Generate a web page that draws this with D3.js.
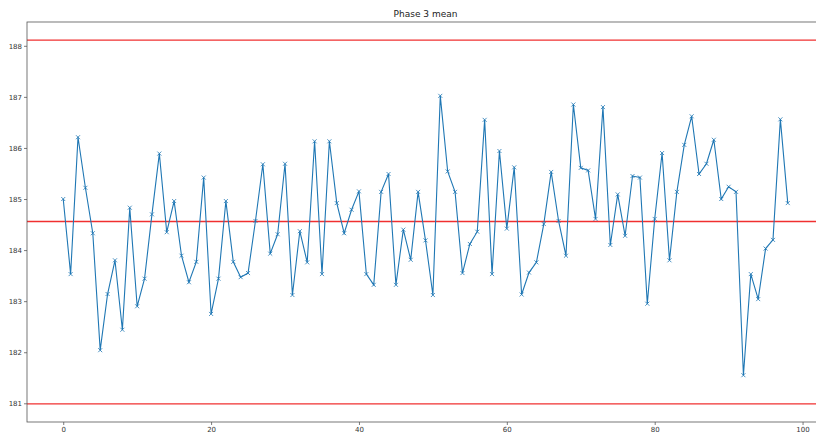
<!DOCTYPE html>
<html>
<head>
<meta charset="utf-8">
<script src="https://cdn.jsdelivr.net/npm/d3@7"></script>
<style>
  body { margin: 0; background: #fff; }
  svg { display: block; font-family: "DejaVu Sans", sans-serif; }
  .tick text { fill: #333; }
</style>
</head>
<body>
<div id="viz"></div>
<script>
// phase 3 mean values, index 0..98
var phaseMean = [
    185.00, 183.53, 186.21, 185.22, 184.33, 182.04, 183.14, 183.80, 182.44, 184.83,
    182.90, 183.44, 184.70, 185.89, 184.35, 184.96, 183.89, 183.37, 183.77, 185.42,
    182.75, 183.44, 184.96, 183.77, 183.47, 183.55, 184.57, 185.68, 183.93, 184.31,
    185.69, 183.12, 184.37, 183.76, 186.13, 183.53, 186.13, 184.92, 184.33, 184.79,
    185.15, 183.53, 183.32, 185.14, 185.49, 183.32, 184.40, 183.81, 185.14, 184.19,
    183.12, 187.02, 185.54, 185.14, 183.55, 184.12, 184.36, 186.55, 183.53, 185.94,
    184.42, 185.62, 183.13, 183.56, 183.76, 184.51, 185.53, 184.57, 183.89, 186.85,
    185.61, 185.56, 184.61, 186.80, 184.10, 185.09, 184.28, 185.45, 185.42, 182.95,
    184.61, 185.90, 183.80, 185.14, 186.06, 186.62, 185.49, 185.69, 186.16, 185.00,
    185.24, 185.14, 181.55, 183.53, 183.04, 184.03, 184.20, 186.56, 184.92
];
// control lines: upper, centre, lower
var controlLines = [188.11, 184.56, 180.99];
var xTicks = [0, 20, 40, 60, 80, 100];
var yTicks = [181, 182, 183, 184, 185, 186, 187, 188];

var W = 816, H = 437;
var margin = {top: 22, left: 27, bottom: 15, right: -8};
var width = W - margin.left - margin.right,
    height = H - margin.top - margin.bottom;

var svg = d3.select('#viz').append('svg')
    .attr('width', W)
    .attr('height', H);

// 5% padding like matplotlib autoscale
var xlo = 0, xhi = phaseMean.length - 1, xpad = (xhi - xlo) * 0.05;
var allY = phaseMean.concat(controlLines);
var ylo = d3.min(allY), yhi = d3.max(allY), ypad = (yhi - ylo) * 0.05;

var x = d3.scaleLinear()
    .domain([xlo - xpad, xhi + xpad])
    .range([0, width]);

var y = d3.scaleLinear()
    .domain([ylo - ypad, yhi + ypad])
    .range([height, 0]);

var g = svg.append('g')
    .attr('transform', 'translate(' + margin.left + ',' + margin.top + ')');

g.append('text')
    .attr('x', width / 2)
    .attr('y', -5)
    .attr('text-anchor', 'middle')
    .attr('font-size', 9)
    .attr('fill', '#222')
    .text('Phase 3 mean');

g.selectAll('line.ctl')
    .data(controlLines)
    .enter().append('line')
    .attr('class', 'ctl')
    .attr('x1', 0)
    .attr('x2', width)
    .attr('y1', function(d) { return y(d); })
    .attr('y2', function(d) { return y(d); })
    .attr('stroke', '#f03030')
    .attr('stroke-width', 1.3);

var line = d3.line()
    .x(function(d, i) { return x(i); })
    .y(function(d) { return y(d); });

g.append('path')
    .datum(phaseMean)
    .attr('d', line)
    .attr('fill', 'none')
    .attr('stroke', '#1f77b4')
    .attr('stroke-width', 1.1);

var m = 2;
g.selectAll('path.mk')
    .data(phaseMean)
    .enter().append('path')
    .attr('class', 'mk')
    .attr('d', function(d, i) {
        var cx = x(i), cy = y(d);
        return 'M' + (cx - m) + ',' + (cy - m) + 'L' + (cx + m) + ',' + (cy + m) +
               'M' + (cx - m) + ',' + (cy + m) + 'L' + (cx + m) + ',' + (cy - m);
    })
    .attr('stroke', '#1f77b4')
    .attr('stroke-width', 0.8);

var xAxis = g.append('g')
    .attr('transform', 'translate(0,' + height + ')')
    .call(d3.axisBottom(x).tickValues(xTicks).tickSize(3).tickPadding(2));

var yAxis = g.append('g')
    .call(d3.axisLeft(y).tickValues(yTicks).tickSize(3).tickPadding(2));

[xAxis, yAxis].forEach(function(a) {
    a.select('.domain').remove();
    a.selectAll('.tick line').attr('stroke', '#444').attr('stroke-width', 0.7);
    a.selectAll('.tick text').attr('font-size', 7).attr('font-family', '"DejaVu Sans", sans-serif');
});

// axes frame
g.append('rect')
    .attr('x', 0)
    .attr('y', 0)
    .attr('width', width)
    .attr('height', height)
    .attr('fill', 'none')
    .attr('stroke', '#555')
    .attr('stroke-width', 0.8);
</script>
</body>
</html>
